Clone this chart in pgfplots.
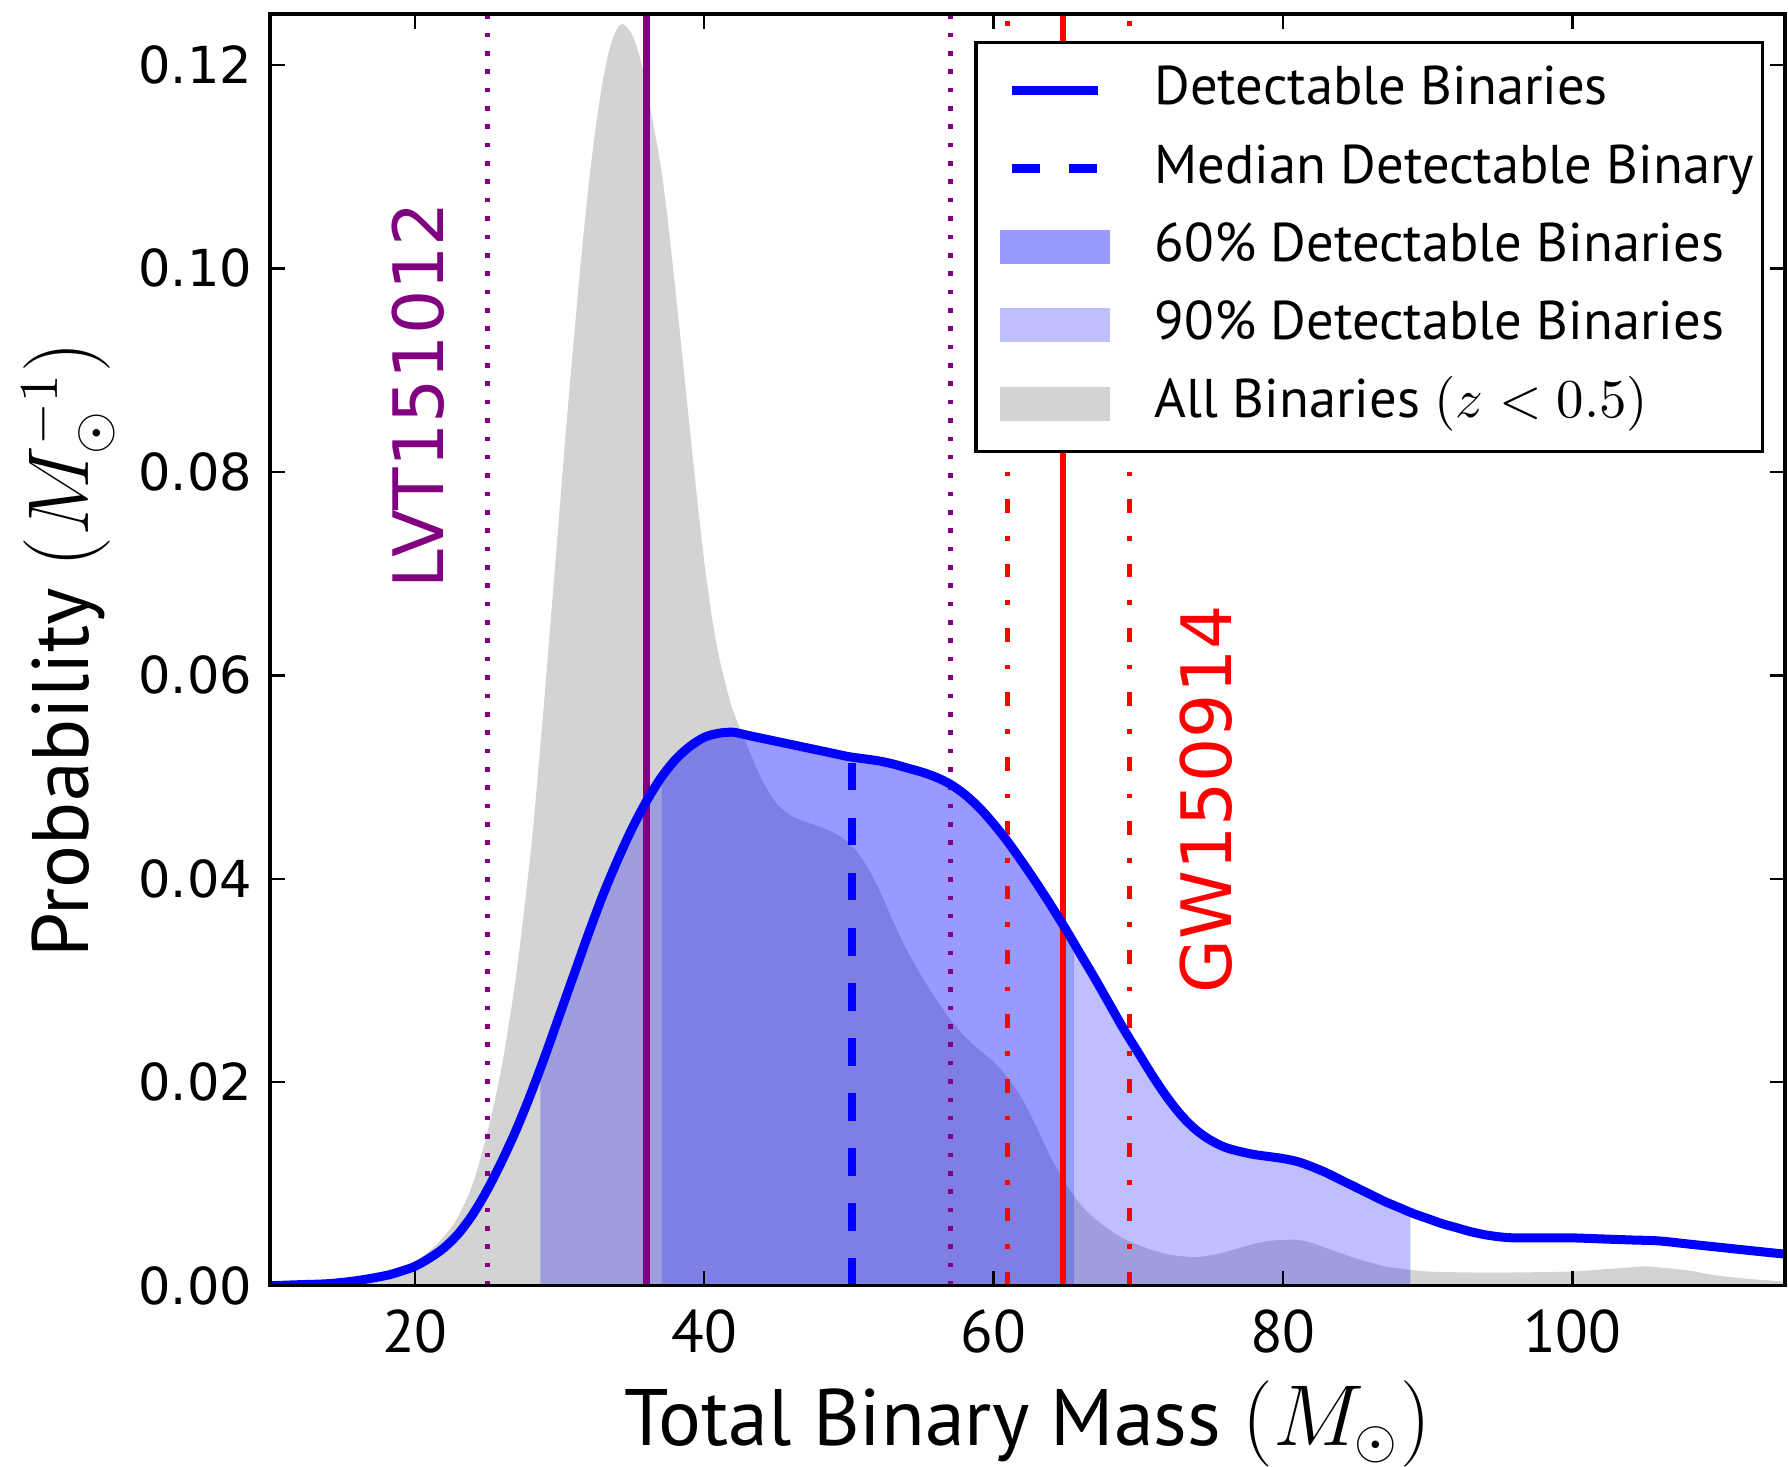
\documentclass[border=0pt]{standalone}
\usepackage{pgfplots}
\pgfplotsset{compat=1.18}
\usepackage{pgfplotstable}
\usepgfplotslibrary{fillbetween}
\usepackage{fontspec}
\setmainfont{PT Sans}
\newfontfamily\dejavu{DejaVu Sans}
\definecolor{lgray}{RGB}{211,211,211}
\definecolor{mpurple}{RGB}{128,0,128}
\definecolor{leg60}{RGB}{153,153,255}
\definecolor{leg90}{RGB}{191,191,255}

\pgfplotsset{
  myline/.style={legend image code/.code={\path (0pt,0pt); \draw[##1] (4.6pt,0pt) -- (21.8pt,0pt);}},
  mypatch/.style={legend image code/.code={\path (0pt,0pt); \fill[##1, draw=none] (2.2pt,-3.4pt) rectangle (24.2pt,3.4pt);}},
}

\pgfplotstableread{
x y
10 0.0000
12 0.0001
14 0.0002
16 0.0005
18 0.0010
19 0.0014
20 0.0019
21 0.0027
22 0.0037
23 0.0051
24 0.0070
25 0.0094
26 0.0122
27 0.0153
28 0.0188
29 0.0226
30 0.0266
31 0.0306
32 0.0346
33 0.0384
34 0.0418
35 0.0449
36 0.0476
37 0.0499
38 0.0517
39 0.0530
40 0.0539
41 0.0543
42 0.0544
43 0.0541
44 0.0538
45 0.0535
46 0.0532
47 0.0529
48 0.0526
49 0.0523
50 0.0520
51 0.0518
52 0.0516
53 0.0513
54 0.0509
55 0.0505
56 0.0500
57 0.0493
58 0.0483
59 0.0470
60 0.0454
61 0.0436
62 0.0416
63 0.0395
64 0.0373
65 0.0350
66 0.0326
67 0.0302
68 0.0277
69 0.0252
70 0.0229
71 0.0206
72 0.0185
73 0.0167
74 0.0153
75 0.0143
76 0.0136
77 0.0132
78 0.0129
79 0.0127
80 0.0125
81 0.0122
82 0.0117
83 0.0111
84 0.0104
85 0.0097
86 0.0090
87 0.0083
88 0.0077
89 0.0071
90 0.0066
91 0.0061
92 0.0057
93 0.0053
94 0.0050
95 0.0048
96 0.0047
98 0.0047
100 0.0047
102 0.0046
104 0.0045
106 0.0044
108 0.0041
110 0.0038
112 0.0035
114.7 0.0031
}\detdata

\pgfplotstableread{
x y
10 0.0000
12 0.0001
14 0.0002
16 0.0005
18 0.0012
20 0.0024
21 0.0034
22 0.0048
23 0.0068
24 0.0100
25 0.0150
26 0.0215
27 0.0305
28 0.0425
28.5 0.0502
29 0.0585
29.5 0.0673
30 0.0762
30.5 0.0850
31 0.0932
31.5 0.1010
32 0.1080
32.5 0.1138
33 0.1185
33.5 0.1218
34 0.1236
34.4 0.1240
35 0.1230
35.5 0.1210
36 0.1180
36.5 0.1140
37 0.1100
37.5 0.1045
38 0.0980
38.5 0.0912
39 0.0843
39.5 0.0775
40 0.0712
40.5 0.0660
41 0.0620
41.5 0.0590
42 0.0565
43 0.0530
44 0.0497
45 0.0474
46 0.0462
47 0.0456
48 0.0451
49 0.0445
50 0.0435
51 0.0418
52 0.0392
53 0.0360
54 0.0330
55 0.0305
56 0.0282
57 0.0262
58 0.0245
59 0.0232
60 0.0220
61 0.0204
62 0.0183
63 0.0155
64 0.0125
65 0.0100
66 0.0080
67 0.0066
68 0.0055
69 0.0046
70 0.0040
71 0.0035
72 0.0031
73 0.0029
74 0.0028
75 0.0030
76 0.0033
77 0.0037
78 0.0041
79 0.0044
80 0.0045
81 0.0045
82 0.0042
83 0.0037
84 0.0032
85 0.0027
86 0.0023
87 0.0019
88 0.0017
90 0.0014
93 0.0013
96 0.0013
100 0.0014
102 0.0016
104 0.0018
105 0.0019
106 0.0018
108 0.0015
110 0.0010
112 0.0007
114.7 0.0004
}\alldata

\begin{document}
\begin{tikzpicture}
\begin{axis}[name=ax, scale only axis, width=302.8pt, height=254.2pt,
  xmin=10, xmax=114.7, ymin=0, ymax=0.125,
  axis on top,
  fill between/on layer=main,
  axis line style={line width=0.7pt},
  every tick/.style={line width=0.5pt, black},
  major tick length=3pt,
  tick align=inside, tick pos=both,
  xtick={20,40,60,80,100},
  ytick={0,0.02,0.04,0.06,0.08,0.10,0.12},
  scaled y ticks=false,
  yticklabel style={font=\dejavu\fontsize{10.2}{10.2}\selectfont,
    /pgf/number format/fixed, /pgf/number format/fixed zerofill,
    /pgf/number format/precision=2, /pgf/number format/assume math mode=true,
    inner sep=0pt, xshift=-3.4pt},
  xticklabel style={font=\fontsize{12}{12}\selectfont,
    /pgf/number format/assume math mode=true, inner sep=0pt, yshift=-4.6pt},
  xlabel={Total Binary Mass $\left(M_\odot\right)$},
  ylabel={Probability $\left(M_\odot^{-1}\right)$},
  xlabel style={font=\fontsize{16}{16}\selectfont, at={(axis description cs:0.5,-0.1259)}, anchor=base},
  ylabel style={font=\fontsize{16}{16}\selectfont, at={(axis description cs:-0.1196,0.5)}, anchor=base, rotate=0},
  legend style={at={(axis description cs:1,1)}, anchor=north east, xshift=-4.2pt, yshift=-5.4pt,
    draw=black, line width=0.7pt, fill=white, inner xsep=1.6pt, inner ysep=4.1pt,
    font=\fontsize{10.9}{10.9}\selectfont, row sep=4.75pt, column sep=9.0pt,
    nodes={text height=8.3pt, text depth=2.6pt, inner ysep=0pt, inner xsep=0pt}},
  legend cell align=left,
]
% all binaries
\addplot[fill=lgray, draw=none, smooth, tension=0.5, forget plot] table[x=x,y=y] {\alldata} \closedcycle;
% detectable path (invisible)
\addplot[draw=none, smooth, tension=0.5, name path=det, forget plot] table[x=x,y=y] {\detdata};
\path[name path=base] (axis cs:10,0) -- (axis cs:114.7,0);
\addplot[fill=blue, fill opacity=0.25, draw=none, forget plot] fill between[of=det and base, soft clip={domain=28.68:37.05}];
\addplot[fill=blue, fill opacity=0.4, draw=none, forget plot] fill between[of=det and base, soft clip={domain=37.05:65.55}];
\addplot[fill=blue, fill opacity=0.25, draw=none, forget plot] fill between[of=det and base, soft clip={domain=65.55:88.8}];
% LVT151012 lines
\addplot[mpurple, line width=1pt, dash pattern=on 0.92pt off 2.75pt, forget plot] coordinates {(25,0) (25,0.125)};
\addplot[mpurple, line width=1pt, dash pattern=on 0.92pt off 2.75pt, forget plot] coordinates {(57,0) (57,0.125)};
\addplot[mpurple, line width=1.3pt, forget plot] coordinates {(36,0) (36,0.125)};
% GW150914 lines
\addplot[red, line width=1pt, dash pattern=on 2.75pt off 4.6pt on 0.92pt off 4.6pt, forget plot] coordinates {(60.94,0) (60.94,0.125)};
\addplot[red, line width=1pt, dash pattern=on 2.75pt off 4.6pt on 0.92pt off 4.6pt, forget plot] coordinates {(69.4,0) (69.4,0.125)};
\addplot[red, line width=1.2pt, forget plot] coordinates {(64.8,0) (64.8,0.125)};
% median
\addplot[blue, line width=1.6pt, dash pattern=on 5.5pt off 5.5pt, forget plot] coordinates {(50.2,0) (50.2,0.0519)};
% detectable curve
\addplot[blue, line width=1.8pt, smooth, tension=0.5, forget plot] table[x=x,y=y] {\detdata};

\node[rotate=90, text=mpurple, font=\dejavu\fontsize{13.9}{13.9}\selectfont] at (axis cs:20.2,0.0875) {LVT151012};
\node[rotate=90, text=red, font=\dejavu\fontsize{13.9}{13.9}\selectfont] at (axis cs:74.7,0.0478) {GW150914};

\addlegendimage{myline, blue, line width=1.8pt}
\addlegendentry{Detectable Binaries}
\addlegendimage{myline, blue, line width=1.8pt, dash pattern=on 5.7pt off 5.7pt}
\addlegendentry{Median Detectable Binary}
\addlegendimage{mypatch, fill=leg60}
\addlegendentry{60\% Detectable Binaries}
\addlegendimage{mypatch, fill=leg90}
\addlegendentry{90\% Detectable Binaries}
\addlegendimage{mypatch, fill=lgray}
\addlegendentry{All Binaries $(z<0.5)$}
\end{axis}
\pgfresetboundingbox
\path[use as bounding box] ([xshift=-54pt,yshift=-36.2pt]ax.south west) rectangle ([xshift=0.6pt,yshift=2.8pt]ax.north east);
\end{tikzpicture}
\end{document}
